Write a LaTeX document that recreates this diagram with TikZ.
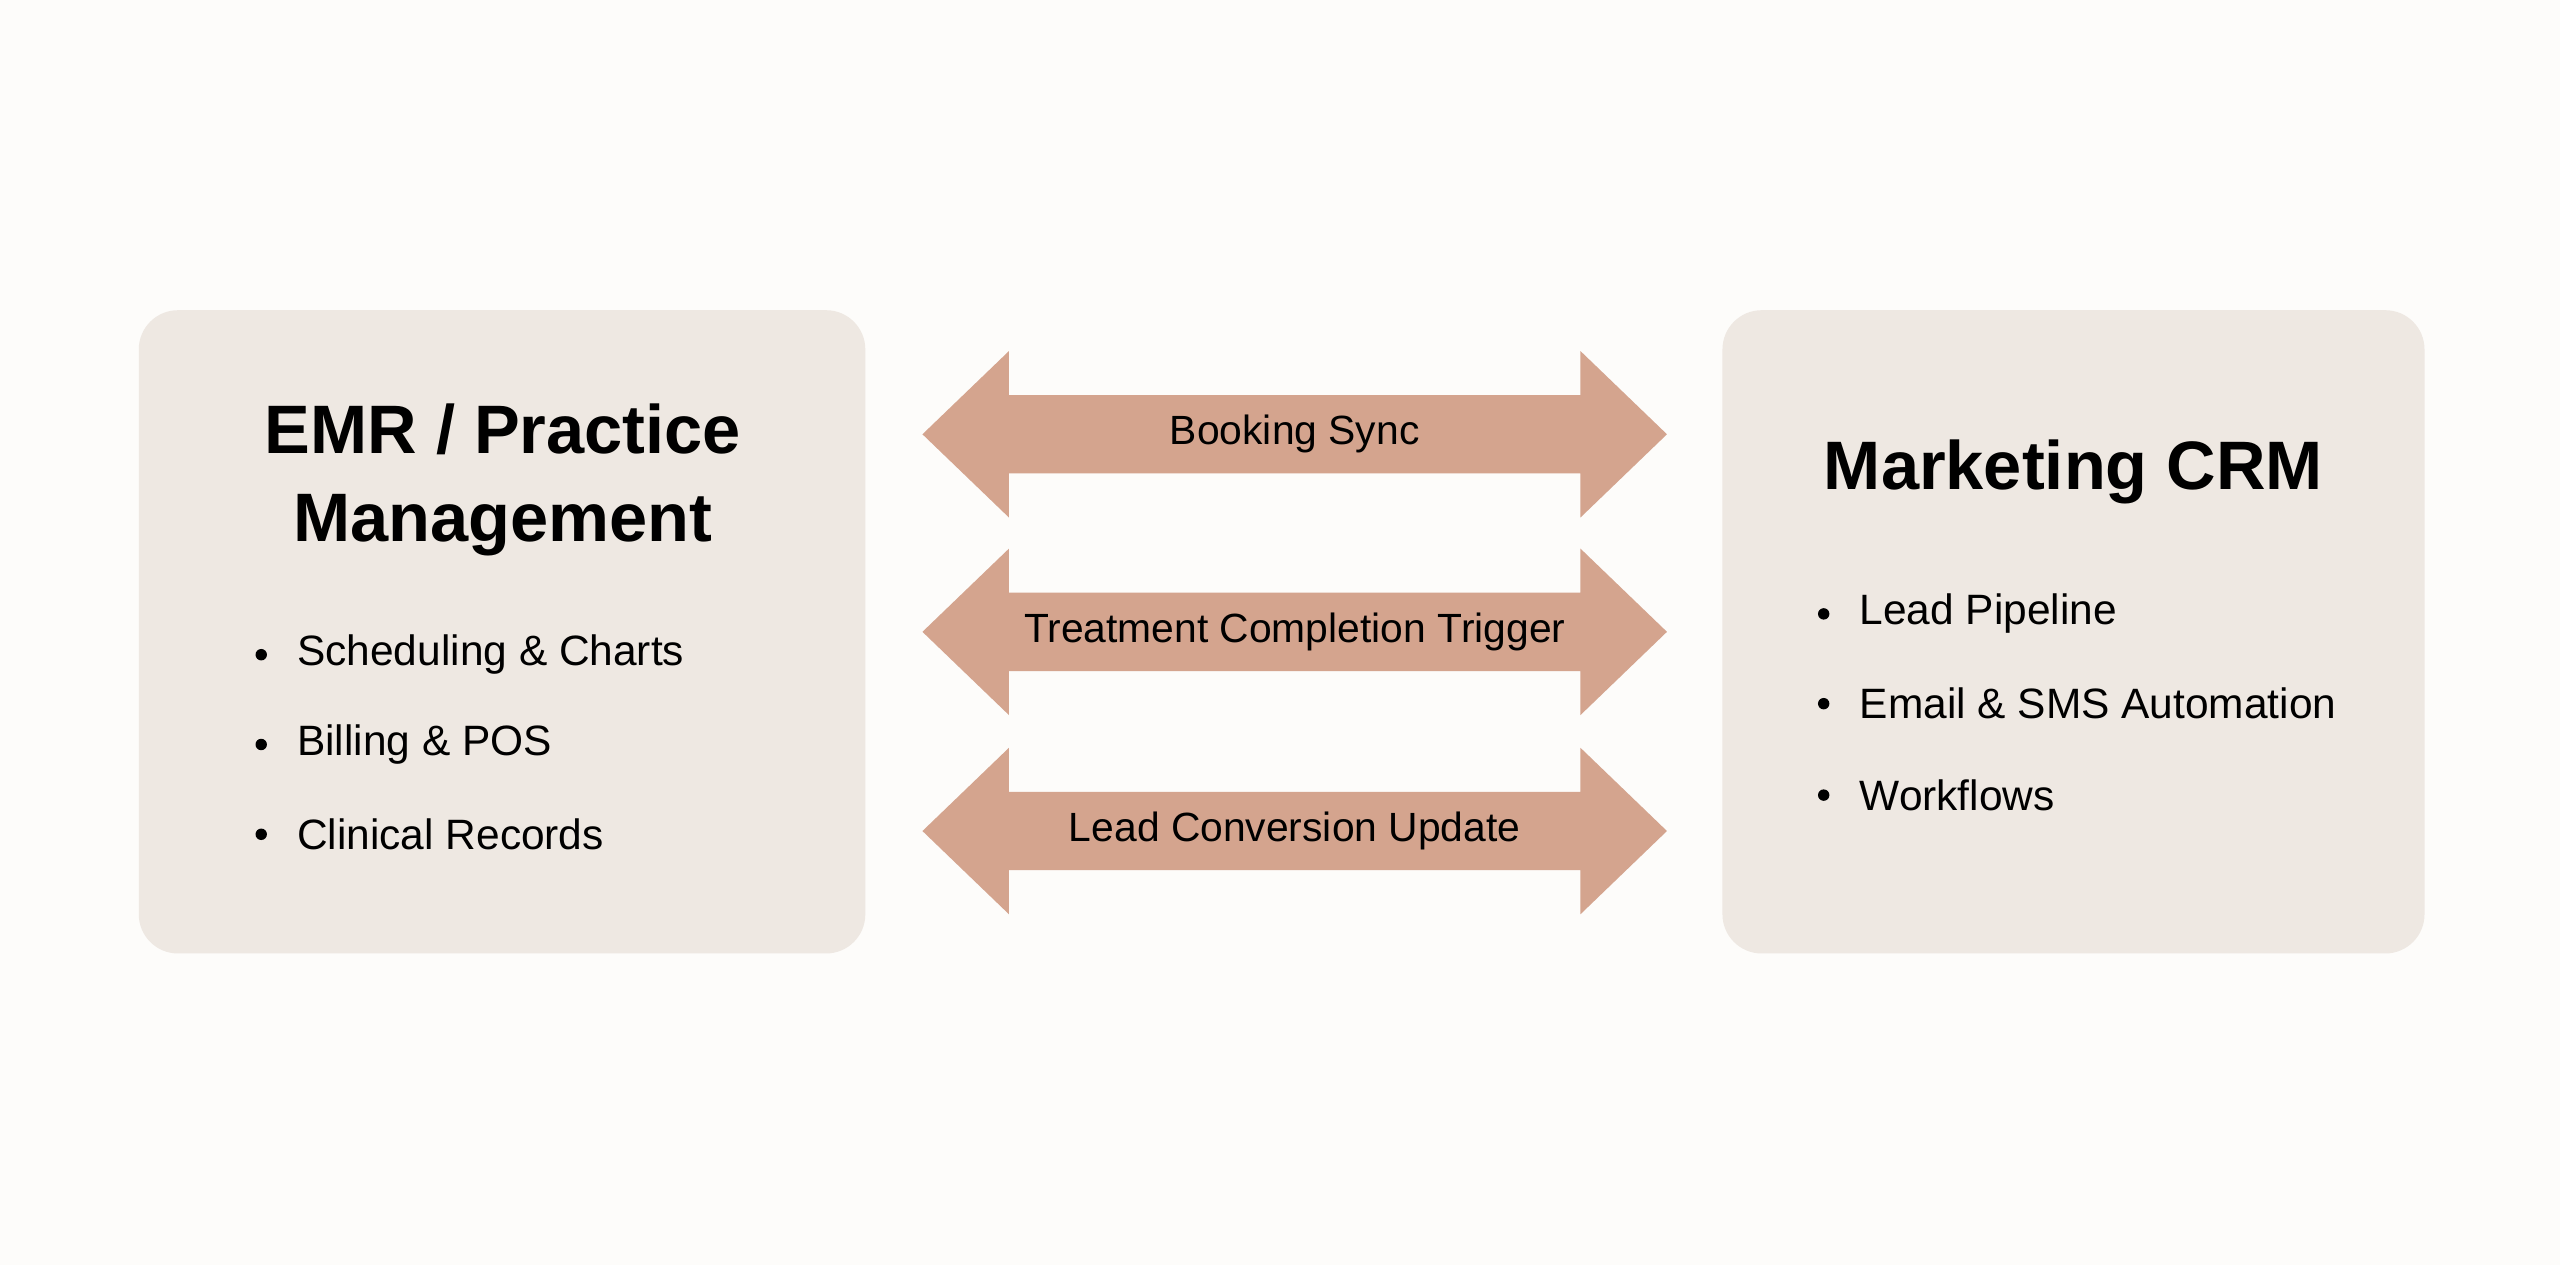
\documentclass[tikz,border=0pt]{standalone}
\usepackage{fontspec}
\setmainfont{Liberation Sans}
\usetikzlibrary{positioning}
\definecolor{bgcol}{HTML}{FDFCFA}
\definecolor{boxcol}{HTML}{EEE8E2}
\definecolor{arrcol}{HTML}{D4A48E}
\tikzset{
  panel/.style={fill=boxcol,rounded corners=12pt},
  head/.style={font=\fontsize{21}{25}\selectfont\bfseries,align=center},
  item/.style={font=\fontsize{13}{15}\selectfont,anchor=west},
  dot/.style={circle,fill=black,inner sep=0pt,minimum size=3.5pt},
  link/.style={font=\fontsize{12.5}{15}\selectfont}
}
\begin{document}
\begin{tikzpicture}[x=0.5pt,y=-0.5pt]
  \fill[bgcol] (0,0) rectangle (1568,775);
  \useasboundingbox (0,0) rectangle (1568,775);

  % panels
  \fill[panel] (85,190) rectangle (530,584);
  \fill[panel] (1055,190) rectangle (1485,584);

  \node[head] (emr) at (308,294) {EMR / Practice\\[2pt]Management};
  \node[head] (crm) at (1270,289) {Marketing CRM};

  \foreach \y/\t [count=\i] in {401/Scheduling \& Charts,456/Billing \& POS,511/Clinical Records}{
    \node[dot] (ld\i) at (160,\y) {};
    \node[item] (l\i) at (175,\y) {\t};
  }
  \foreach \y/\t [count=\i] in {376/Lead Pipeline,431/Email \& SMS Automation,487/Workflows}{
    \node[dot] (rd\i) at (1117,\y) {};
    \node[item] (r\i) at (1132,\y) {\t};
  }

  % double arrows
  \foreach \y/\t [count=\i] in {266/Booking Sync,387/Treatment Completion Trigger,509/Lead Conversion Update}{
    \fill[arrcol] (565,\y) -- (618,\y-51) -- (618,\y-24) -- (968,\y-24) -- (968,\y-51)
      -- (1021,\y) -- (968,\y+51) -- (968,\y+24) -- (618,\y+24) -- (618,\y+51) -- cycle;
    \node[link] (a\i) at (793,\y) {\t};
  }
\end{tikzpicture}
\end{document}
